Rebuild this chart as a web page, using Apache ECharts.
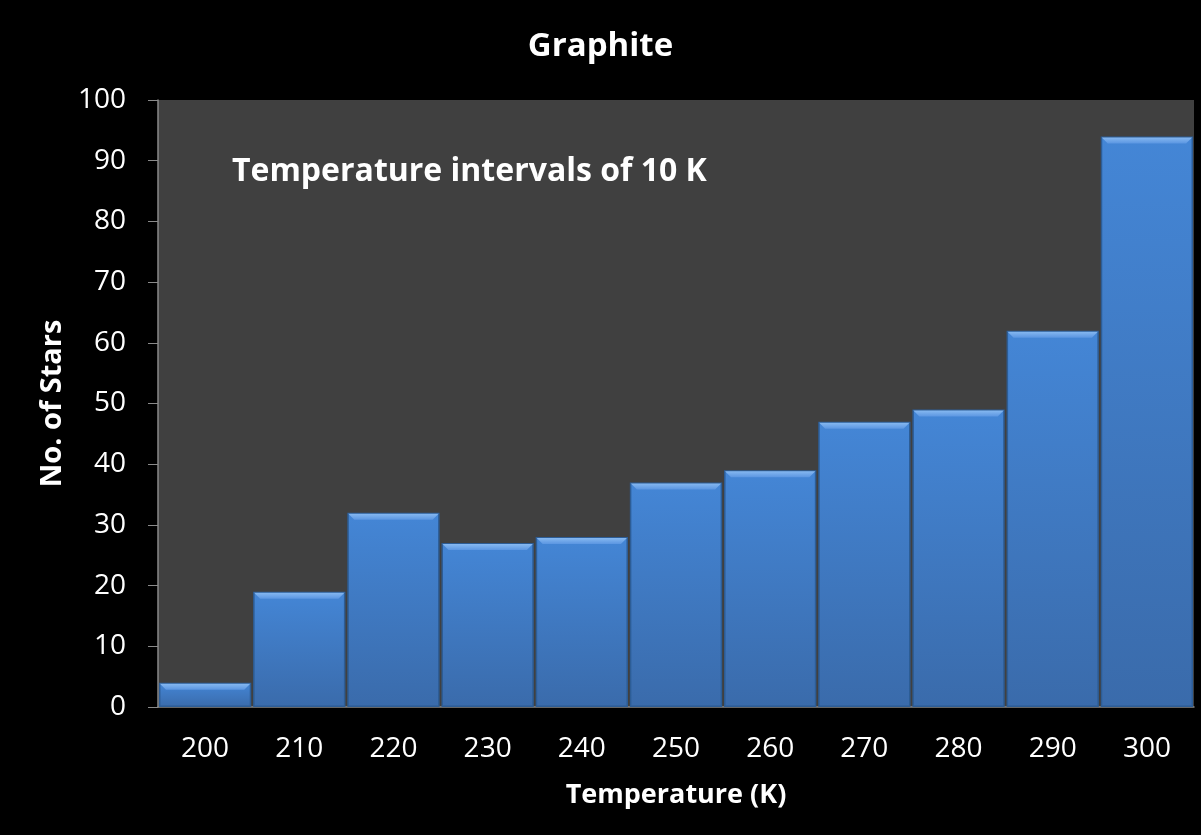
<!DOCTYPE html>
<html><head><meta charset="utf-8">
<script src="https://cdn.jsdelivr.net/npm/echarts@6/dist/echarts.min.js"></script>
<style>html,body{margin:0;padding:0;background:#000}#c{width:1201px;height:835px}</style>
</head><body><div id="c"></div>
<script>
var categories = ['200','210','220','230','240','250','260','270','280','290','300'];
var stars = [4,19,32,27,28,37,39,47,49,62,94];
var yTicks = {min:0, max:100, interval:10};
var titleText = 'Graphite';
var noteText = 'Temperature intervals of 10 K';
var xName = 'Temperature (K)';
var yName = 'No. of Stars';

var chart = echarts.init(document.getElementById('c'));
var font = '"Open Sans", "Noto Sans", sans-serif';
chart.setOption({
  backgroundColor:'#000',
  animation:false,
  title:{text:titleText,left:'center',top:25,textStyle:{color:'#fff',fontSize:33,fontWeight:'bold',fontFamily:font}},
  graphic:[{type:'text',left:232,top:156,style:{text:noteText,fill:'#fff',font:'bold 32px '+font}}],
  grid:{left:158,right:7,top:100,bottom:128,show:true,backgroundColor:'#404040',borderWidth:0},
  xAxis:{type:'category',data:categories,name:xName,nameLocation:'middle',nameGap:75,
    nameTextStyle:{color:'#fff',fontSize:27,fontWeight:'bold',fontFamily:font},
    axisLine:{lineStyle:{color:'#8a8a8a',width:1.5}},axisTick:{show:false},
    axisLabel:{color:'#fff',fontSize:28,fontFamily:font,margin:28}},
  yAxis:{type:'value',min:yTicks.min,max:yTicks.max,interval:yTicks.interval,name:yName,nameLocation:'middle',nameGap:86,
    nameTextStyle:{color:'#fff',fontSize:29,fontWeight:'bold',fontFamily:font},
    axisLine:{show:true,lineStyle:{color:'#8a8a8a',width:1.5}},axisTick:{show:true,length:10,lineStyle:{color:'#8a8a8a'}},
    splitLine:{show:false},
    axisLabel:{color:'#fff',fontSize:28,fontFamily:font,margin:32}},
  series:[{type:'bar',data:stars,barCategoryGap:'2%',
    itemStyle:{borderColor:'#2d5d96',borderWidth:1.5,
      color:{type:'linear',x:0,y:0,x2:0,y2:1,colorStops:[{offset:0,color:'#4486d6'},{offset:1,color:'#3a6bab'}]}}},
   {type:'custom',data:stars.map(function(v,i){return [i,v];}),z:5,silent:true,
    renderItem:function(params,api){
      var p=api.coord([api.value(0),api.value(1)]);
      var w=api.size([1,0])[0]*0.98;
      var l=p[0]-w/2+1, r=p[0]+w/2-1, t=p[1]+1, h=6;
      return {type:'polygon',shape:{points:[[l,t],[r,t],[r-6,t+h],[l+6,t+h]]},
        style:{fill:{type:'linear',x:0,y:0,x2:0,y2:1,colorStops:[{offset:0,color:'#86b8f0'},{offset:1,color:'#5b96e2'}]}}};
    }}]
});
</script></body></html>
